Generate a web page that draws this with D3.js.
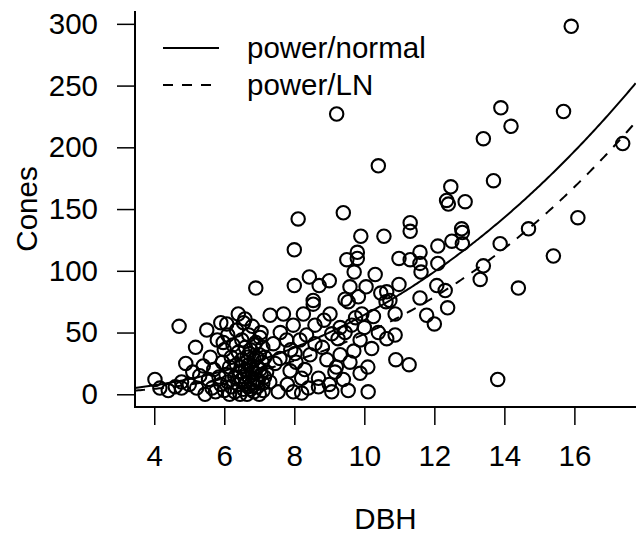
<!DOCTYPE html>
<html>
<head>
	<meta charset="utf-8">
	<title>Cones vs DBH</title>
	<style>
		body { margin: 0; background: #fff; }
		text { font-family: "Liberation Sans", Arial, sans-serif; font-size: 29.5px; fill: #000; }
		.pt { fill: none; stroke: #000; stroke-width: 2.1; }
		.curve { fill: none; stroke: #000; stroke-width: 2; }
	</style>
</head>
<body>
	<svg id="container" width="636" height="536"></svg>
<script src="https://d3js.org/d3.v7.min.js"></script>
<script>
	// tree diameter (DBH) and cone counts
	const trees = [
		[15.91,298],[13.90,232],[14.19,217],[13.40,207],[15.69,229],[17.38,203],[9.21,227],[10.4,185],
		[12.47,168],[12.35,157],[13.69,173],[6.90,86],
		[8.11,142],[9.40,147],[9.90,128],[10.56,128],[8.0,117],[9.8,115],[9.5,109],[9.8,110],[9.71,99],
		[10.31,97],[8.43,95],[8.71,88],[9.0,92],[8.0,88],[9.59,87],[10.05,87],[10.47,82],[8.54,76],
		[9.45,77],[9.83,79],[10.62,75],
		[12.4,154],[12.88,156],[11.31,139],[11.31,132],[12.78,134],[12.8,131],[12.5,124],[12.8,122],
		[12.1,120],[13.88,122],[11.59,115],[10.99,110],[11.31,109],[11.59,106],[12.1,106],[11.62,99],
		[13.4,104],[13.31,93],[10.99,89],[12.07,88],[12.31,84],[10.64,83],[11.59,78],[10.73,76],
		[14.69,134],[16.1,143],[15.4,112],[14.4,86],
		[12.38,70],[10.88,65],[11.78,64],[12.0,57],[10.88,48],[10.64,45],[10.9,28],[11.28,24],[13.81,12],
		[7.31,64],[7.69,65],[8.26,65],[8.54,73],[9.02,65],[9.54,75],[9.93,65],[10.26,63],[7.97,56],
		[8.59,56],[9.31,54],[9.64,56],[7.4,41],[7.78,44],[8.16,44],[8.59,41],[9.07,49],[9.45,50],
		[9.88,44],[10.21,37],[7.16,30],[7.59,29],[8.02,33],[8.45,32],[8.93,28],[9.31,32],[9.59,26],
		[7.21,18],[7.88,19],[8.21,13],[8.69,13],[9.16,18],[9.88,17],[7.11,3],[7.54,2],[7.97,2],
		[8.21,1],[8.69,6],[9.07,2],[9.54,3],[10.11,2],[7.02,46],
		[4.71,55],[5.5,52],[5.18,38],[4.9,25],[5.4,23],[4.02,12],[4.16,5],[4.4,3],[4.78,10],[4.78,5],
		[5.21,5],[5.45,0],[6.07,57],[6.4,65],[6.59,61],[5.97,42],
		[5.55,12],[5.6,30],[5.65,5],[5.7,20],[5.75,2],[5.8,44],[5.85,14],[5.9,8],[5.95,26],[6.0,3],
		[6.0,36],[6.05,16],[6.1,10],[6.1,48],[6.15,0],[6.15,22],[6.2,30],[6.2,6],[6.25,40],[6.3,14],
		[6.3,2],[6.35,52],[6.35,24],[6.4,8],[6.4,34],[6.45,18],[6.45,0],[6.5,44],[6.5,12],[6.5,28],
		[6.55,4],[6.55,58],[6.6,20],[6.6,38],[6.6,8],[6.65,0],[6.65,30],[6.7,14],[6.7,48],[6.7,24],
		[6.75,4],[6.75,36],[6.8,10],[6.8,18],[6.8,55],[6.85,2],[6.85,28],[6.9,42],[6.9,12],[6.95,22],
		[6.95,6],[7.0,32],[7.0,0],[7.05,16],[7.05,50],[7.1,9],[7.1,38],[5.3,15],[5.0,8],[5.1,18],
		[4.6,6],[5.9,58],
		[6.62,26],[6.68,6],[6.72,33],[6.78,22],[6.83,7],[6.88,17],[6.92,30],[6.97,11],[7.02,20],[7.08,26],
		[6.58,14],[6.48,22],[6.85,40],[7.15,14],
		[7.3,10],[7.45,25],[7.6,50],[7.8,8],[7.9,36],[8.05,26],[8.3,20],[8.35,48],[8.4,5],[8.8,38],
		[8.85,60],[9.0,8],[9.2,22],[9.25,45],[9.4,12],[9.7,35],[9.75,62],[10.0,54],[10.1,22],[10.4,50]
	]

	// fitted power curves: cones = a * DBH^b
	const curveNames = ["power/normal", "power/LN"]
	const curveA = [0.268, 0.1143]
	const curveB = [2.38, 2.63]
	const curveDash = [null, "10,9"]

	const xTicks = [4, 6, 8, 10, 12, 14, 16]
	const yTicks = [0, 50, 100, 150, 200, 250, 300]

	let svg = d3.select("#container")
	let plotL = 135, plotR = 636, plotT = 11, plotB = 407

	let x = d3.scaleLinear().domain([3.45, 17.76]).range([plotL, plotR])
	let y = d3.scaleLinear().domain([-10.3, 310.4]).range([plotB, plotT])

	// L-shaped box
	svg.append("path")
		.attr("d", `M${plotL},${plotT}V${plotB}H${plotR}`)
		.attr("fill", "none")
		.attr("stroke", "#000")
		.attr("stroke-width", 2)

	let xAxis = svg.append("g")
		.attr("transform", `translate(0,${plotB})`)
		.call(d3.axisBottom(x).tickValues(xTicks).tickSize(18).tickPadding(20))
	let yAxis = svg.append("g")
		.attr("transform", `translate(${plotL},0)`)
		.call(d3.axisLeft(y).tickValues(yTicks).tickSize(18).tickPadding(19))
	for (let ax of [xAxis, yAxis]) {
		ax.select(".domain").remove()
		ax.selectAll(".tick line").attr("stroke", "#000").attr("stroke-width", 1.5)
		ax.selectAll("text").attr("font-size", null).attr("font-family", null)
	}

	// points
	svg.append("g").selectAll("circle")
		.data(trees)
		.enter()
		.append("circle")
		.attr("class", "pt")
		.attr("cx", d => x(d[0]))
		.attr("cy", d => y(d[1]))
		.attr("r", 6.7)

	// curves
	let xs = d3.range(3.45, 17.8, 0.05)
	let line = d3.line().x(d => x(d[0])).y(d => y(d[1]))
	let clip = svg.append("clipPath").attr("id", "plotclip")
	clip.append("rect").attr("x", plotL).attr("y", plotT).attr("width", plotR - plotL).attr("height", plotB - plotT)
	curveNames.forEach((name, i) => {
		svg.append("path")
			.attr("class", "curve")
			.attr("clip-path", "url(#plotclip)")
			.attr("stroke-dasharray", curveDash[i])
			.attr("d", line(xs.map(v => [v, curveA[i] * Math.pow(v, curveB[i])])))
	})

	// legend
	let legend = svg.append("g")
	curveNames.forEach((name, i) => {
		let ly = 48 + i * 37
		legend.append("line")
			.attr("x1", 163).attr("x2", 219)
			.attr("y1", ly).attr("y2", ly)
			.attr("stroke", "#000").attr("stroke-width", 2)
			.attr("stroke-dasharray", curveDash[i])
		legend.append("text")
			.attr("x", 247).attr("y", ly + 9.5)
			.text(name)
	})

	// axis titles
	svg.append("text")
		.attr("x", (plotL + plotR) / 2).attr("y", 529)
		.attr("text-anchor", "middle")
		.text("DBH")
	svg.append("text")
		.attr("transform", "translate(37,209) rotate(-90)")
		.attr("text-anchor", "middle")
		.text("Cones")
</script>
</body>
</html>
